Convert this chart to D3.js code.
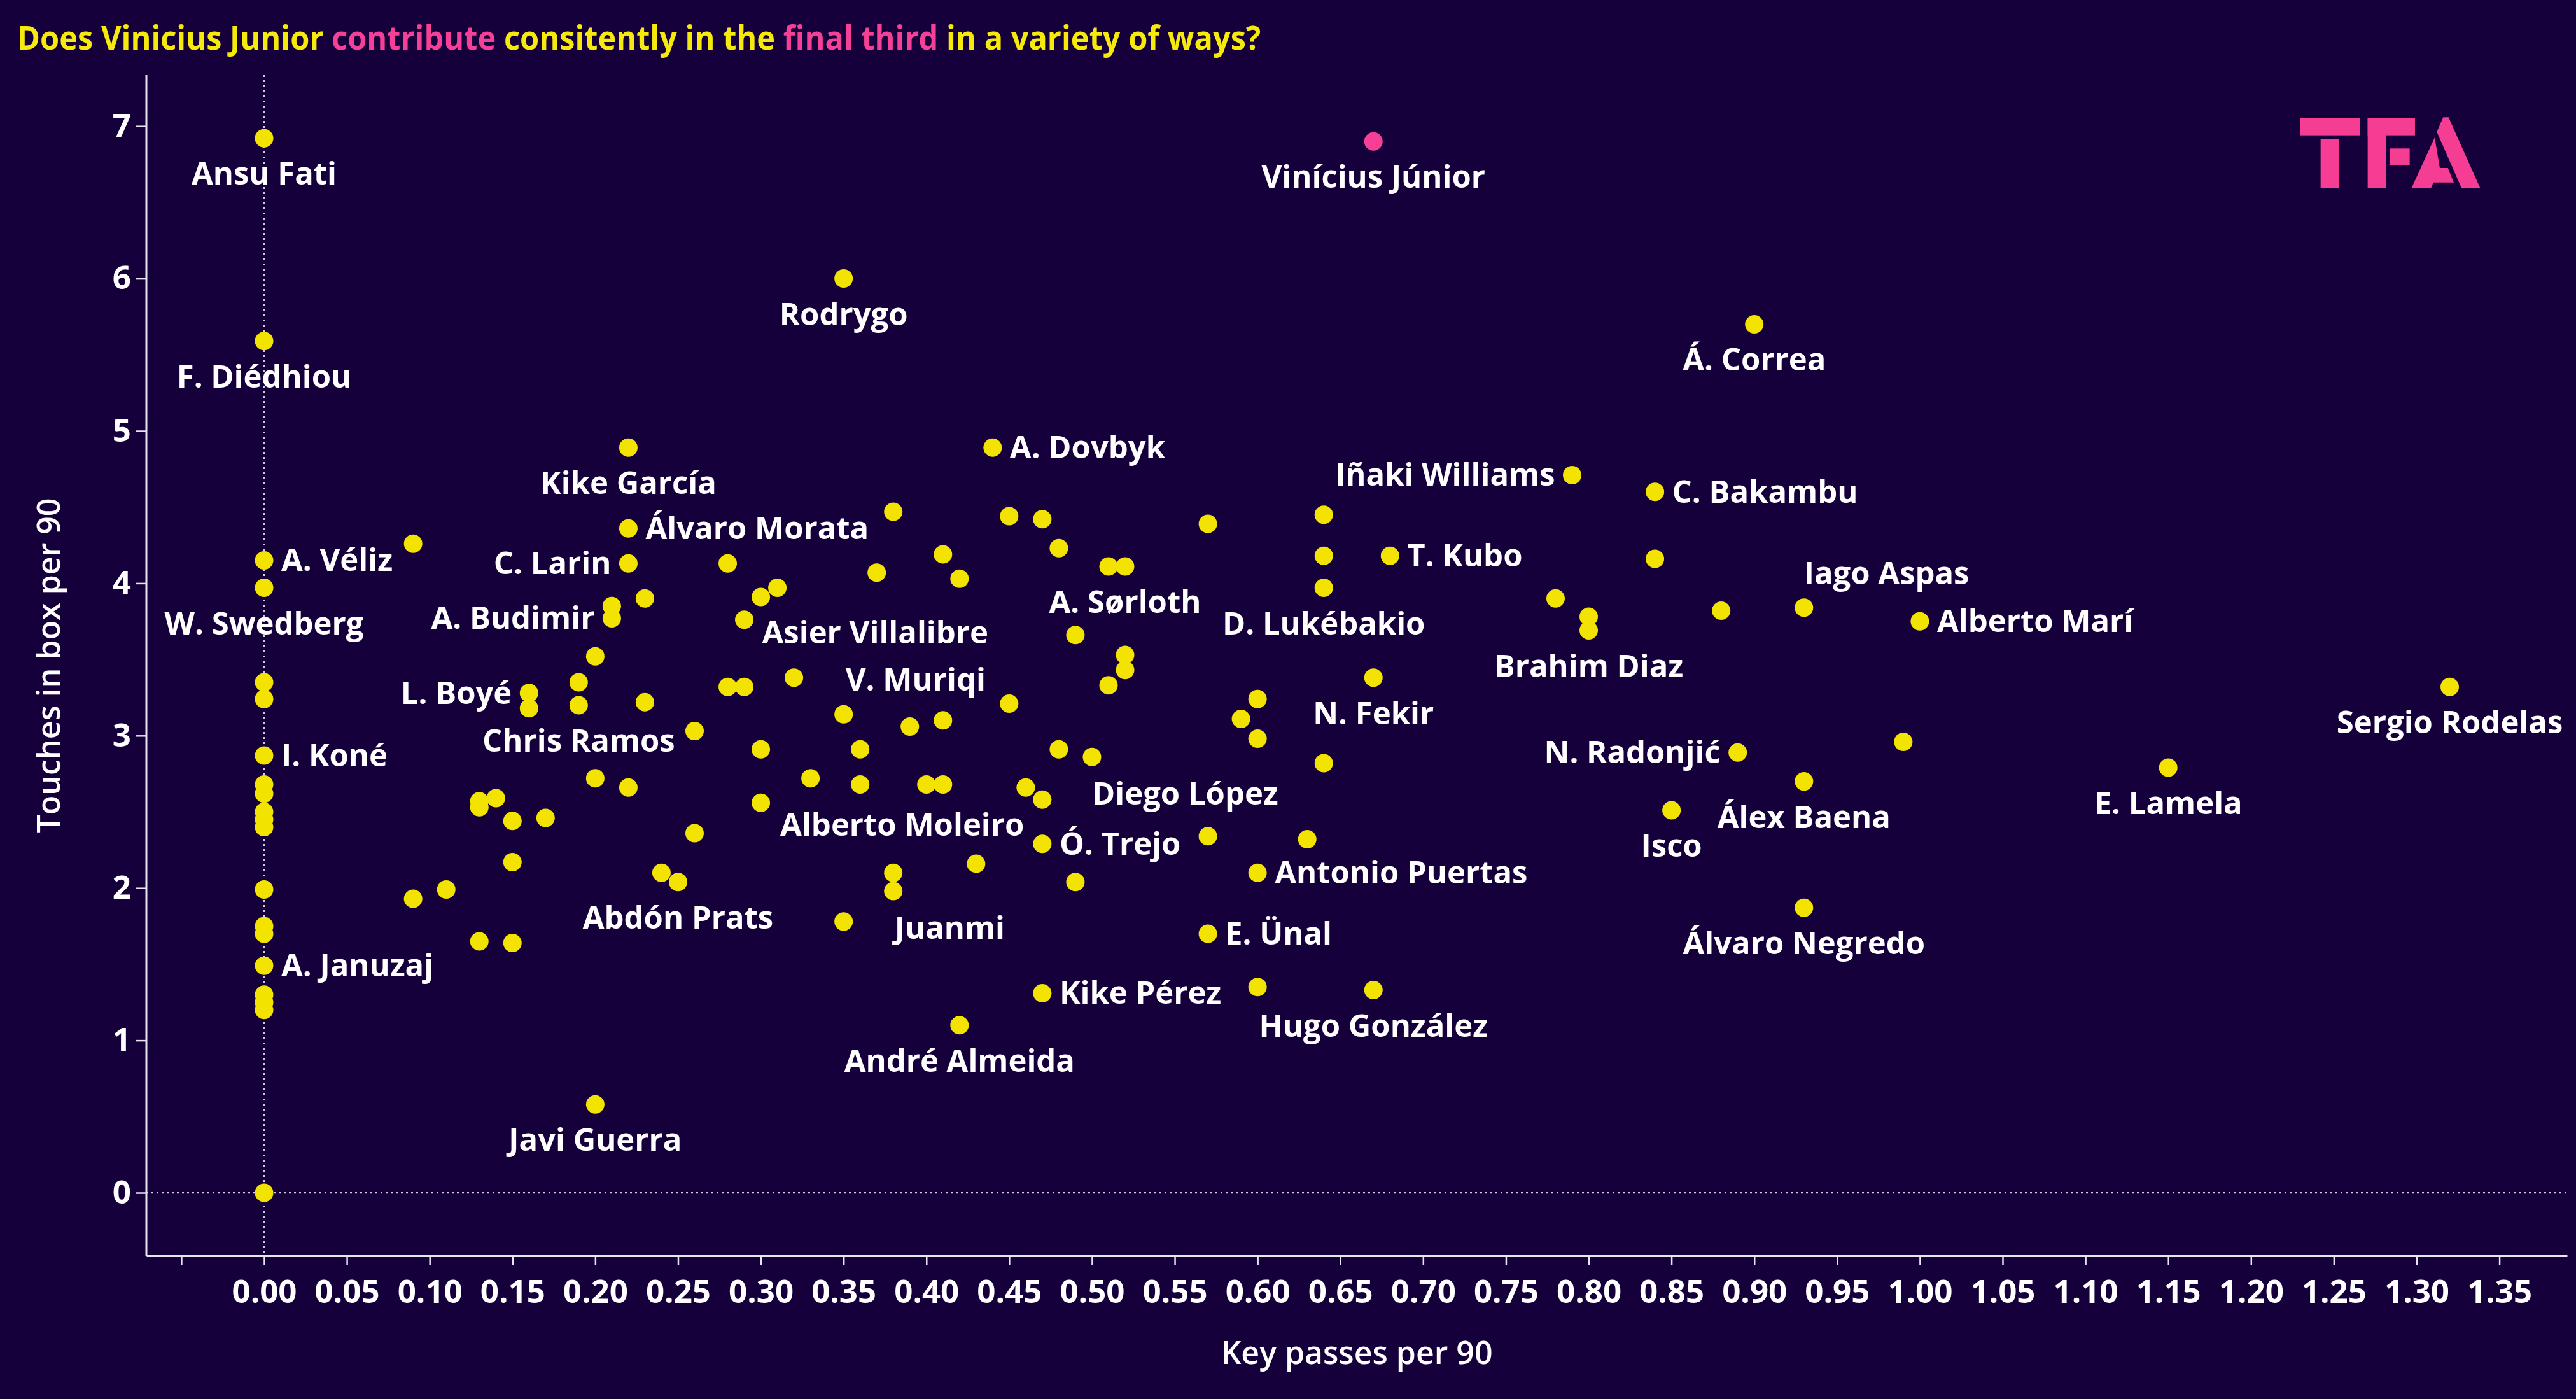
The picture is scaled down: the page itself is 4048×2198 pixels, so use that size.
<!DOCTYPE html>
<html><head><meta charset="utf-8">
<script src="https://cdn.jsdelivr.net/npm/d3@7"></script>
<style>html,body{margin:0;padding:0;background:#16003b;} svg{display:block;}</style>
</head><body>
<script>
// ---------------- DATA ----------------
const titleParts = [
  ["Does Vinicius Junior ", "main"], ["contribute", "accent"],
  [" consitently in the ", "main"], ["final third", "accent"],
  [" in a variety of ways?", "main"]
];
const xTitle = "Key passes per 90";
const yTitle = "Touches in box per 90";
const xTicks = [-0.05,0,0.05,0.10,0.15,0.20,0.25,0.30,0.35,0.40,0.45,0.50,0.55,0.60,0.65,0.70,0.75,0.80,0.85,0.90,0.95,1.00,1.05,1.10,1.15,1.20,1.25,1.30,1.35];
const yTicks = [0,1,2,3,4,5,6,7];
const highlightPlayer = "Vinícius Júnior";

const playerNames = [
  "Ansu Fati","F. Diédhiou","A. Véliz","W. Swedberg","","","I. Koné","","","","","","","","","A. Januzaj","","","","",
  "","Kike García","Álvaro Morata","C. Larin","","","Asier Villalibre","","","A. Budimir","","","Chris Ramos","L. Boyé","","","","","","","","","","","","","","","","Abdón Prats","","","","",
  "A. Dovbyk","","","","","","","D. Lukébakio","","","A. Sørloth","","","","","","","","","","","","","","","","","","V. Muriqi","","","","Diego López","","","Alberto Moleiro","","","","Ó. Trejo","","","Antonio Puertas","","","Juanmi","","","E. Ünal","Kike Pérez","","André Almeida",
  "Vinícius Júnior","Rodrygo","Á. Correa","Iñaki Williams","C. Bakambu","T. Kubo","","","","Brahim Diaz","","Iago Aspas","Alberto Marí","N. Fekir","N. Radonjić","","Álex Baena","Isco","Álvaro Negredo","E. Lamela","Sergio Rodelas","Hugo González","Javi Guerra"
];
const keyPasses = [
  0,0,0,0,0,0,0,0,0,0,0,0,0,0,0,0,0,0,0,0,
  0.09,0.22,0.22,0.22,0.28,0.30,0.29,0.23,0.21,0.21,0.20,0.19,0.19,0.16,0.16,0.23,0.26,0.30,0.20,0.22,0.30,0.14,0.13,0.13,0.15,0.17,0.26,0.15,0.24,0.25,0.11,0.09,0.13,0.15,
  0.44,0.38,0.45,0.47,0.57,0.64,0.64,0.64,0.48,0.51,0.52,0.41,0.42,0.37,0.31,0.49,0.52,0.52,0.51,0.28,0.29,0.32,0.45,0.60,0.59,0.60,0.64,0.35,0.39,0.41,0.36,0.48,0.50,0.33,0.36,0.40,0.41,0.46,0.47,0.47,0.57,0.63,0.60,0.43,0.38,0.38,0.49,0.35,0.57,0.47,0.60,0.42,
  0.67,0.35,0.90,0.79,0.84,0.68,0.84,0.78,0.80,0.80,0.88,0.93,1.00,0.67,0.89,0.99,0.93,0.85,0.93,1.15,1.32,0.67,0.20
];
const boxTouches = [
  6.92,5.59,4.15,3.97,3.35,3.24,2.87,2.68,2.62,2.50,2.45,2.40,1.99,1.75,1.70,1.49,1.30,1.25,1.20,0.00,
  4.26,4.89,4.36,4.13,4.13,3.91,3.76,3.90,3.85,3.77,3.52,3.35,3.20,3.28,3.18,3.22,3.03,2.91,2.72,2.66,2.56,2.59,2.57,2.53,2.44,2.46,2.36,2.17,2.10,2.04,1.99,1.93,1.65,1.64,
  4.89,4.47,4.44,4.42,4.39,4.45,4.18,3.97,4.23,4.11,4.11,4.19,4.03,4.07,3.97,3.66,3.53,3.43,3.33,3.32,3.32,3.38,3.21,3.24,3.11,2.98,2.82,3.14,3.06,3.10,2.91,2.91,2.86,2.72,2.68,2.68,2.68,2.66,2.58,2.29,2.34,2.32,2.10,2.16,2.10,1.98,2.04,1.78,1.70,1.31,1.35,1.10,
  6.90,6.00,5.70,4.71,4.60,4.18,4.16,3.90,3.78,3.69,3.82,3.84,3.75,3.38,2.89,2.96,2.70,2.51,1.87,2.79,3.32,1.33,0.58
];

// ---------------- LAYOUT / STYLE ----------------
const W = 4048, H = 2198;
const C = { bg:"#16003b", main:"#f5ea0c", accent:"#f63f96", dot:"#f2e300", text:"#ffffff", axis:"#e6e6ee", ref:"#cfcfdc" };
const FONT = "'Open Sans', 'Noto Sans', sans-serif";
const plot = { left:230, right:4034, top:118, bottom:1973 };
// label placement: code or [anchor, dx, dy]
const placeCodes = { b:["middle",0,73], r:["start",27,17], l:["end",-27,17] };
const labelPlacement = {
  "Ansu Fati":"b","F. Diédhiou":"b","A. Véliz":"r","W. Swedberg":"b","I. Koné":"r","A. Januzaj":"r",
  "Kike García":"b","Álvaro Morata":"r","C. Larin":"l","Asier Villalibre":["start",28,37],"A. Budimir":"l",
  "Chris Ramos":"b","L. Boyé":"l","Abdón Prats":"b","A. Dovbyk":"r","D. Lukébakio":"b","A. Sørloth":"b",
  "V. Muriqi":["start",-101,-56],"Diego López":["start",0,75],"Alberto Moleiro":["middle",-38,81],
  "Ó. Trejo":"r","Antonio Puertas":"r","Juanmi":["start",2,75],"E. Ünal":"r","Kike Pérez":"r","André Almeida":"b",
  "Vinícius Júnior":"b","Rodrygo":"b","Á. Correa":"b","Iñaki Williams":"l","C. Bakambu":"r","T. Kubo":"r",
  "Brahim Diaz":"b","Iago Aspas":["start",0,-37],"Alberto Marí":"r","N. Fekir":"b","N. Radonjić":"l",
  "Álex Baena":"b","Isco":"b","Álvaro Negredo":"b","E. Lamela":"b","Sergio Rodelas":"b","Hugo González":"b","Javi Guerra":"b"
};

const svg = d3.select("body").append("svg").attr("width", W).attr("height", H);
svg.append("rect").attr("width", W).attr("height", H).attr("fill", C.bg);

const x = d3.scaleLinear().domain([-0.0711, 1.3909]).range([plot.left, plot.right]);
const y = d3.scaleLinear().domain([-0.4135, 7.335]).range([plot.bottom, plot.top]);

// Title
const title = svg.append("text").attr("font-family", FONT).attr("font-weight", 700)
  .attr("font-size", 52).attr("x", 0).attr("y", 0);
titleParts.forEach(([t, k]) => title.append("tspan").text(t).attr("fill", C[k]));
{
  const w = title.node().getComputedTextLength();
  title.attr("transform", `translate(27,78) scale(${1955 / w},1)`);
}

// Logo TFA
const logo = svg.append("g").attr("transform", "translate(3550,150) scale(0.3333)").attr("fill", "#f53d94");
logo.append("rect").attr("x",192).attr("y",108).attr("width",283).attr("height",80);
logo.append("rect").attr("x",290).attr("y",205).attr("width",86).attr("height",233);
logo.append("rect").attr("x",512).attr("y",108).attr("width",86).attr("height",330);
logo.append("rect").attr("x",512).attr("y",108).attr("width",223).attr("height",80);
logo.append("rect").attr("x",617).attr("y",250).attr("width",93).attr("height",77);
logo.append("polygon").attr("points","868,103 893,103 1043,438 955,438 838,172");
logo.append("polygon").attr("points","828,198 852,342 890,342 918,410 822,410 810,438 718,438");

// Reference (zero) lines
svg.append("line").attr("x1", x(0)).attr("x2", x(0)).attr("y1", plot.top).attr("y2", plot.bottom)
  .attr("stroke", C.ref).attr("stroke-width", 2.5).attr("stroke-dasharray", "3,5");
svg.append("line").attr("x1", plot.left).attr("x2", plot.right).attr("y1", y(0)).attr("y2", y(0))
  .attr("stroke", C.ref).attr("stroke-width", 2.5).attr("stroke-dasharray", "3,5");

// Axes
const xAxis = svg.append("g").attr("transform", `translate(0,${plot.bottom})`)
  .call(d3.axisBottom(x).tickValues(xTicks).tickSize(14).tickSizeOuter(0).tickPadding(24)
    .tickFormat(d => d < 0 ? "" : d3.format(".2f")(d)));
const yAxis = svg.append("g").attr("transform", `translate(${plot.left},0)`)
  .call(d3.axisLeft(y).tickValues(yTicks).tickSize(16).tickSizeOuter(0).tickPadding(8)
    .tickFormat(d3.format("d")));
[xAxis, yAxis].forEach(a => {
  a.select(".domain").attr("stroke", C.axis).attr("stroke-width", 3);
  a.selectAll(".tick line").attr("stroke", C.axis).attr("stroke-width", 2.5);
  a.selectAll(".tick text").attr("fill", C.text).attr("font-family", FONT)
    .attr("font-size", 51).attr("font-weight", 700);
});
yAxis.select(".domain").attr("d", `M0,${plot.top}V${plot.bottom}`);

// Axis titles
svg.append("text").text(xTitle).attr("x", (plot.left + plot.right) / 2).attr("y", 2143)
  .attr("text-anchor", "middle").attr("fill", C.text).attr("font-family", FONT)
  .attr("font-size", 50).attr("font-weight", 600);
svg.append("text").text(yTitle).attr("transform", `translate(94,${(plot.top + plot.bottom) / 2}) rotate(-90)`)
  .attr("text-anchor", "middle").attr("fill", C.text).attr("font-family", FONT)
  .attr("font-size", 50).attr("font-weight", 600);

// Points
const players = playerNames.map((n, i) => ({ name: n, kp: keyPasses[i], tb: boxTouches[i] }));
const ordered = players.filter(p => p.name !== highlightPlayer).concat(players.filter(p => p.name === highlightPlayer));
svg.append("g").selectAll("circle").data(ordered).join("circle")
  .attr("cx", d => x(d.kp)).attr("cy", d => y(d.tb)).attr("r", 14.5)
  .attr("fill", d => d.name === highlightPlayer ? C.accent : C.dot);

// Labels
svg.append("g").selectAll("text").data(players.filter(p => p.name)).join("text")
  .text(d => d.name)
  .each(function(d) {
    let pl = labelPlacement[d.name] || "r";
    if (typeof pl === "string") pl = placeCodes[pl];
    d3.select(this).attr("x", x(d.kp) + pl[1]).attr("y", y(d.tb) + pl[2]).attr("text-anchor", pl[0]);
  })
  .attr("fill", C.text).attr("font-family", FONT).attr("font-size", 49).attr("font-weight", 700);
</script>
</body></html>
